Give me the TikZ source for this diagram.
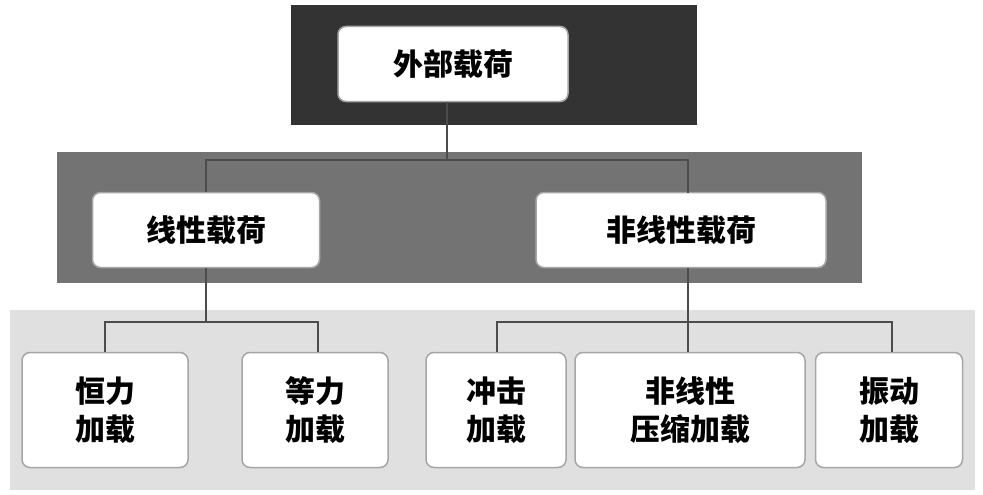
\documentclass[tikz,border=0pt]{standalone}
\usepackage{fontspec}
\newfontfamily\cjk{Noto Sans CJK SC}
\begin{document}
\begin{tikzpicture}[x=1pt,y=-1pt,
  band/.style={draw=none},
  box/.style={draw=gray!70,line width=1.5pt,fill=white,rounded corners=8pt,inner sep=0pt,font=\cjk\bfseries\fontsize{30}{38}\selectfont,align=center},
  con/.style={draw=black!70,line width=1.5pt}]
\useasboundingbox (0,0) rectangle (983,495);
\fill[white] (0,0) rectangle (983,495);
\fill[black!80] (291,5) rectangle (697,125);
\fill[black!55] (57,152) rectangle (862,283);
\fill[black!12] (10,310) rectangle (975,490);
\node[box,minimum width=230pt,minimum height=75pt] (top) at (453,64) {外部载荷};
\node[box,minimum width=227pt,minimum height=75pt] (lin) at (206,230) {线性载荷};
\node[box,minimum width=290pt,minimum height=75pt] (nl) at (681,230) {非线性载荷};
\node[box,minimum width=166pt,minimum height=115pt] (a) at (105,410) {恒力\\加载};
\node[box,minimum width=146pt,minimum height=115pt] (b) at (315,410) {等力\\加载};
\node[box,minimum width=140pt,minimum height=115pt] (c) at (496,410) {冲击\\加载};
\node[box,minimum width=230pt,minimum height=115pt] (d) at (690,410) {非线性\\压缩加载};
\node[box,minimum width=147pt,minimum height=115pt] (e) at (889,410) {振动\\加载};
\coordinate (j1) at (447,160);
\coordinate (j2) at (206,322);
\coordinate (j3) at (688,322);
\draw[con] (447,102) -- (j1);
\draw[con] (j1) -| (lin.north);
\draw[con] (j1) -| (688,193);
\draw[con] (lin.south) -- (j2);
\draw[con] (j2) -| (105,352);
\draw[con] (j2) -| (318,352);
\draw[con] (688,268) -- (688,352);
\draw[con] (j3) -| (497,352);
\draw[con] (j3) -| (892,352);
\end{tikzpicture}
\end{document}
